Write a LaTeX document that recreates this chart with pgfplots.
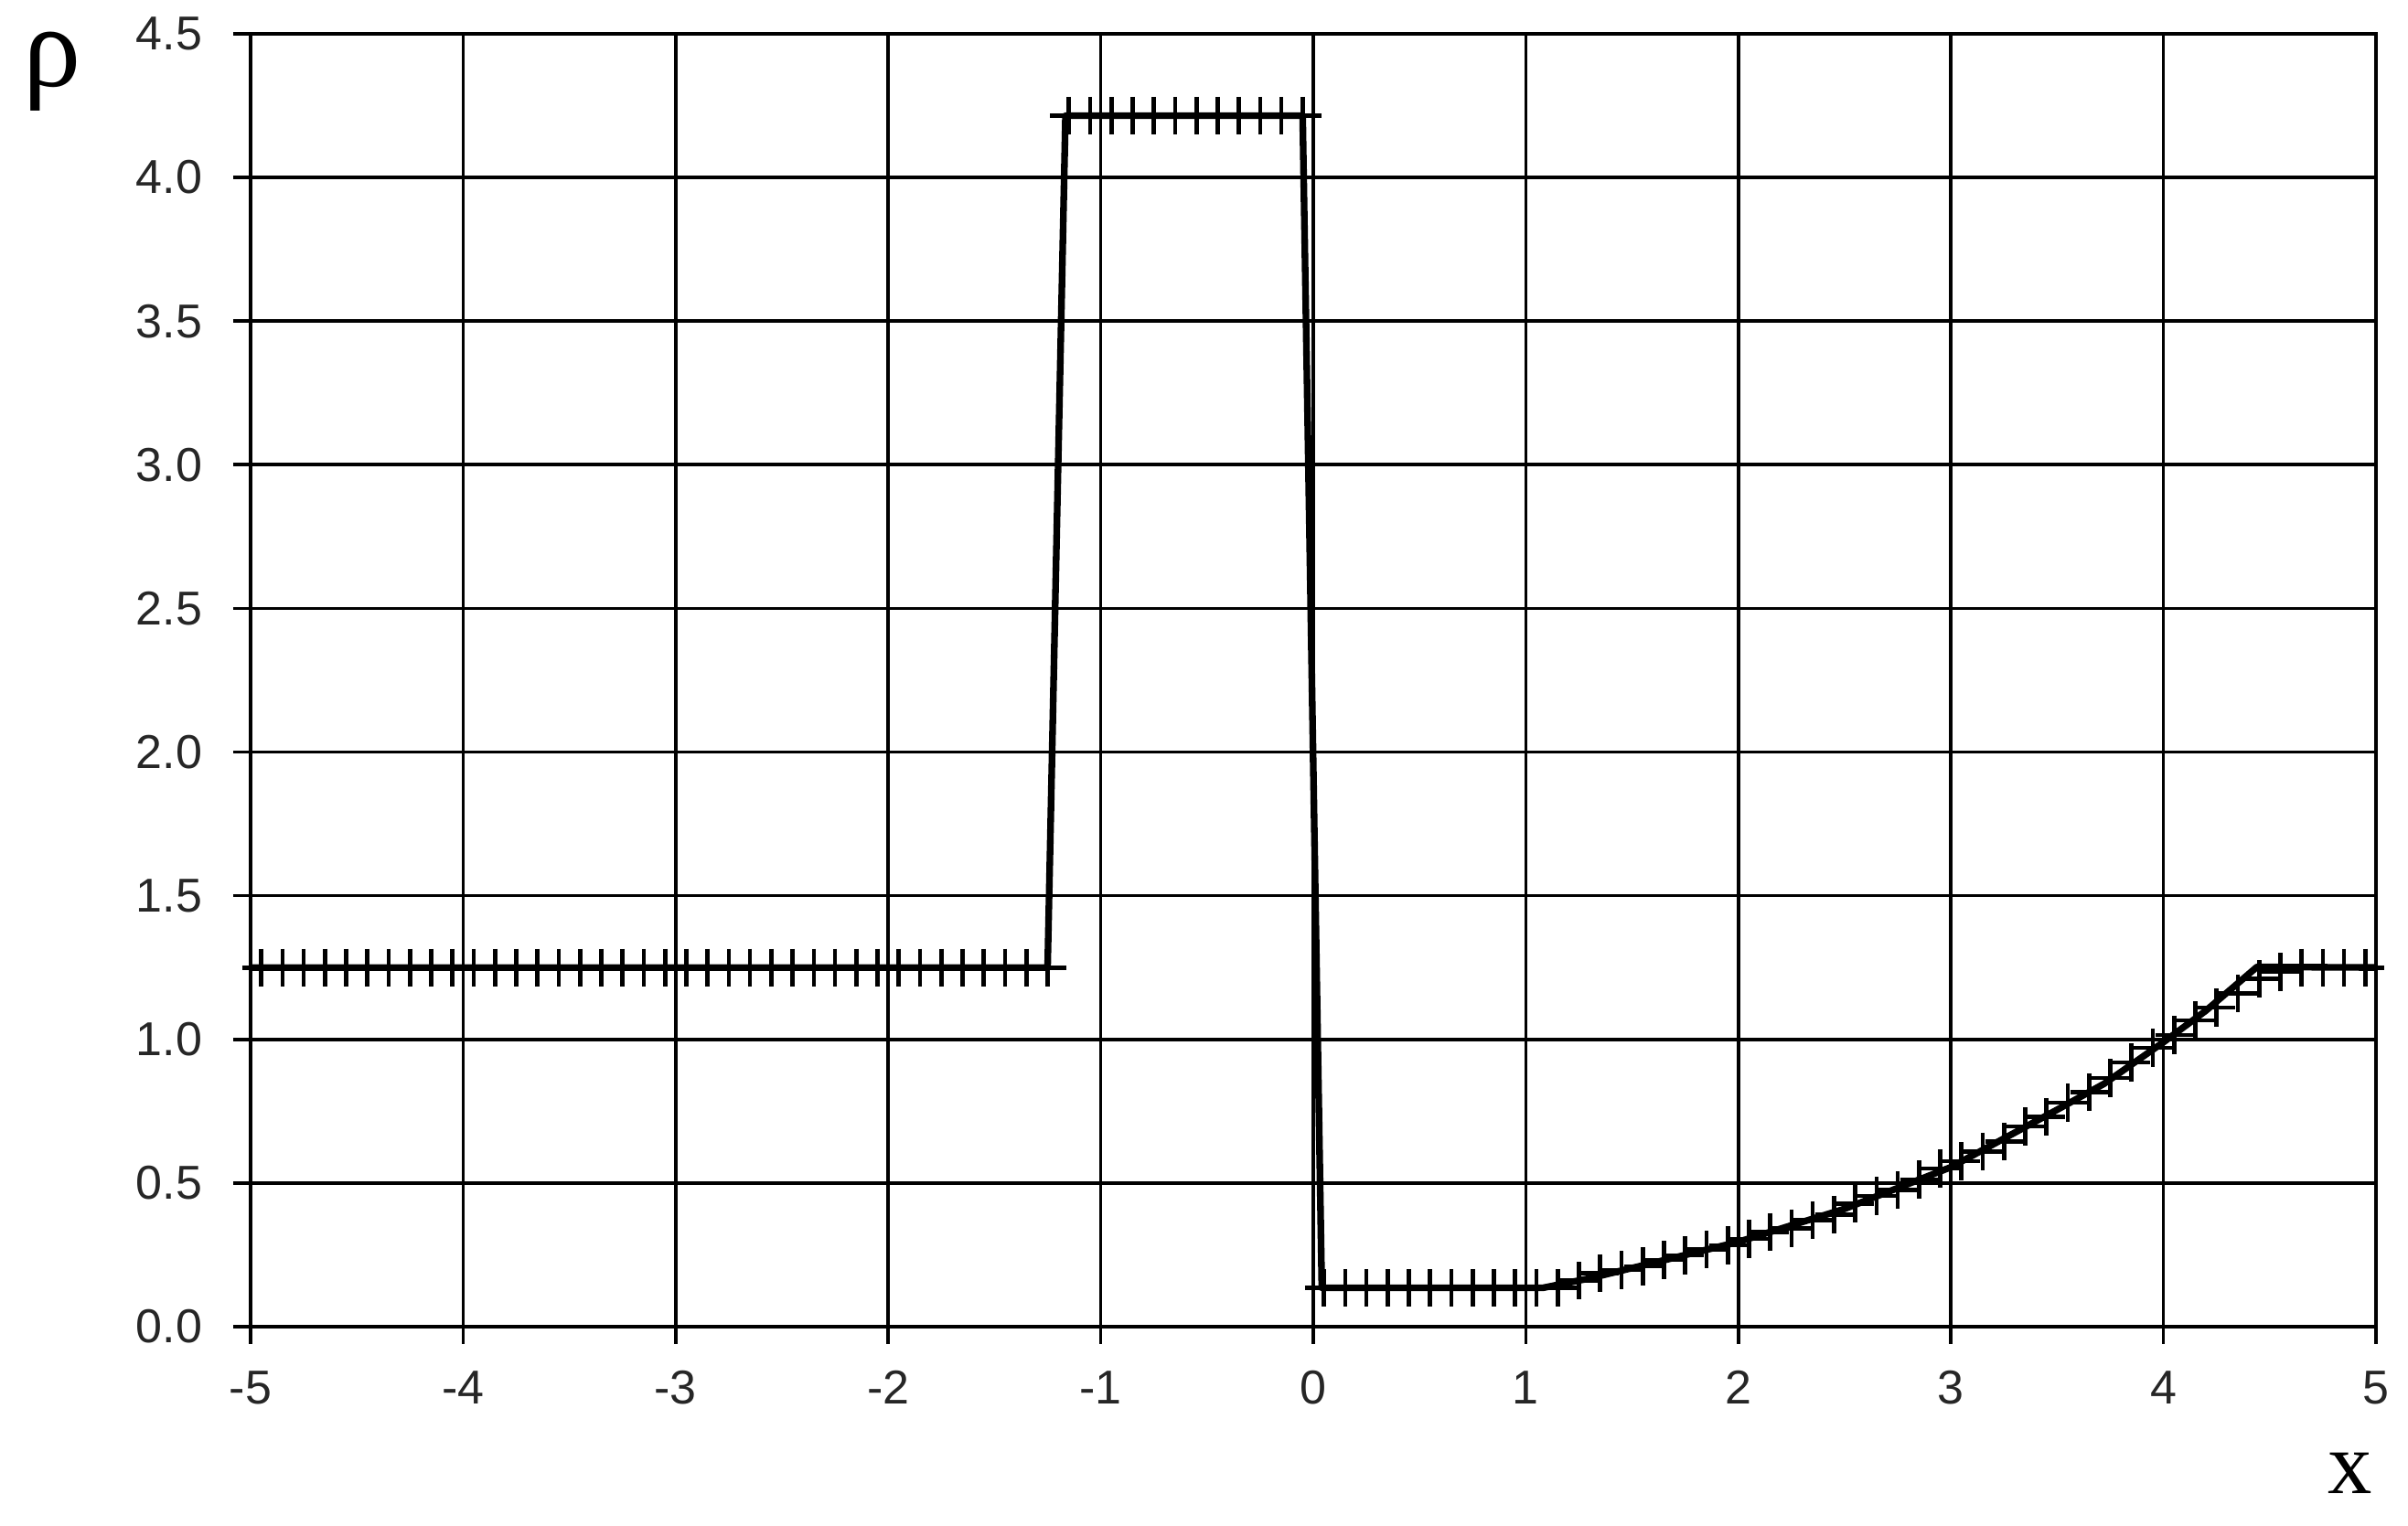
\documentclass[border=0pt]{standalone}
\usepackage{fontspec}
\setmainfont{Liberation Sans}
\newfontfamily\serif{Liberation Serif}
\usepackage{pgfplots}
\pgfplotsset{compat=1.18}

\begin{document}
\begin{tikzpicture}
\begin{axis}[
    name=ax,
    scale only axis,
    width=348.6pt, height=212.1pt,
    xmin=-5, xmax=5, ymin=0, ymax=4.5,
    clip=false,
    axis line style={black, line width=0.55pt},
    grid=major,
    major grid style={black, line width=0.55pt},
    tick pos=left,
    tick align=outside,
    major tick length=2.85pt,
    tick style={black, line width=0.55pt},
    xtick={-5,-4,-3,-2,-1,0,1,2,3,4,5},
    xticklabels={-5,-4,-3,-2,-1,0,1,2,3,4,5},
    ytick={0,0.5,1,1.5,2,2.5,3,3.5,4,4.5},
    yticklabels={0.0,0.5,1.0,1.5,2.0,2.5,3.0,3.5,4.0,4.5},
    ticklabel style={font=\fontsize{7.8}{9}\selectfont, text=black!85},
    yticklabel style={inner sep=0pt, anchor=east, xshift=-4.9pt},
    xticklabel style={inner sep=0pt, anchor=north, yshift=-4.2pt},
]
% exact solution
\addplot[black, line width=1.1pt, line join=round] coordinates {
  (-5,1.25) (-1.25,1.25) (-1.166,4.215) (-0.05,4.215) (0.04,0.135) (1.08,0.135)
  (1.3,0.168) (1.6,0.222) (2.0,0.295) (2.5,0.41) (3.0,0.555) (3.5,0.755)
  (3.72,0.845) (4.0,0.99) (4.2,1.1) (4.44,1.252) (5,1.25)
};
% numerical solution
\addplot[only marks, mark=+, mark size=3.1pt, black, mark options={line width=0.7pt}] coordinates {
  (-4.95,1.25) (-4.85,1.25) (-4.75,1.25) (-4.65,1.25) (-4.55,1.25) (-4.45,1.25)
  (-4.35,1.25) (-4.25,1.25) (-4.15,1.25) (-4.05,1.25) (-3.95,1.25) (-3.85,1.25)
  (-3.75,1.25) (-3.65,1.25) (-3.55,1.25) (-3.45,1.25) (-3.35,1.25) (-3.25,1.25)
  (-3.15,1.25) (-3.05,1.25) (-2.95,1.25) (-2.85,1.25) (-2.75,1.25) (-2.65,1.25)
  (-2.55,1.25) (-2.45,1.25) (-2.35,1.25) (-2.25,1.25) (-2.15,1.25) (-2.05,1.25)
  (-1.95,1.25) (-1.85,1.25) (-1.75,1.25) (-1.65,1.25) (-1.55,1.25) (-1.45,1.25)
  (-1.35,1.25) (-1.25,1.25)
  (-1.15,4.215) (-1.05,4.215) (-0.95,4.215) (-0.85,4.215) (-0.75,4.215) (-0.65,4.215)
  (-0.55,4.215) (-0.45,4.215) (-0.35,4.215) (-0.25,4.215) (-0.15,4.215) (-0.05,4.215)
  (0.05,0.135) (0.15,0.135) (0.25,0.135) (0.35,0.135) (0.45,0.135) (0.55,0.135)
  (0.65,0.135) (0.75,0.135) (0.85,0.135) (0.95,0.135) (1.05,0.135) (1.15,0.135)
  (1.25,0.16) (1.35,0.187) (1.45,0.197) (1.55,0.21) (1.65,0.232) (1.75,0.248)
  (1.85,0.268) (1.95,0.283) (2.05,0.305) (2.15,0.33) (2.25,0.343) (2.35,0.37)
  (2.45,0.39) (2.55,0.427) (2.65,0.455) (2.75,0.475) (2.85,0.512) (2.95,0.55)
  (3.05,0.576) (3.15,0.61) (3.25,0.645) (3.35,0.697) (3.45,0.73) (3.55,0.78)
  (3.65,0.817) (3.75,0.865) (3.85,0.92) (3.95,0.97) (4.05,1.015) (4.15,1.066)
  (4.25,1.11) (4.35,1.16) (4.45,1.21) (4.55,1.235) (4.65,1.25) (4.75,1.25)
  (4.85,1.25) (4.95,1.25)
};
\node[font=\serif\fontsize{19}{19}\selectfont, inner sep=0pt] at ([xshift=-32.6pt,yshift=-6.2pt]rel axis cs:0,1) {ρ};
\node[font=\serif\fontsize{14.5}{14.5}\selectfont, inner sep=0pt] at ([xshift=-4.2pt,yshift=-24pt]rel axis cs:1,0) {x};
\end{axis}
\path ([xshift=-41.1pt,yshift=-32.7pt]ax.south west) rectangle ([xshift=5.25pt,yshift=5.55pt]ax.north east);
\end{tikzpicture}
\end{document}
